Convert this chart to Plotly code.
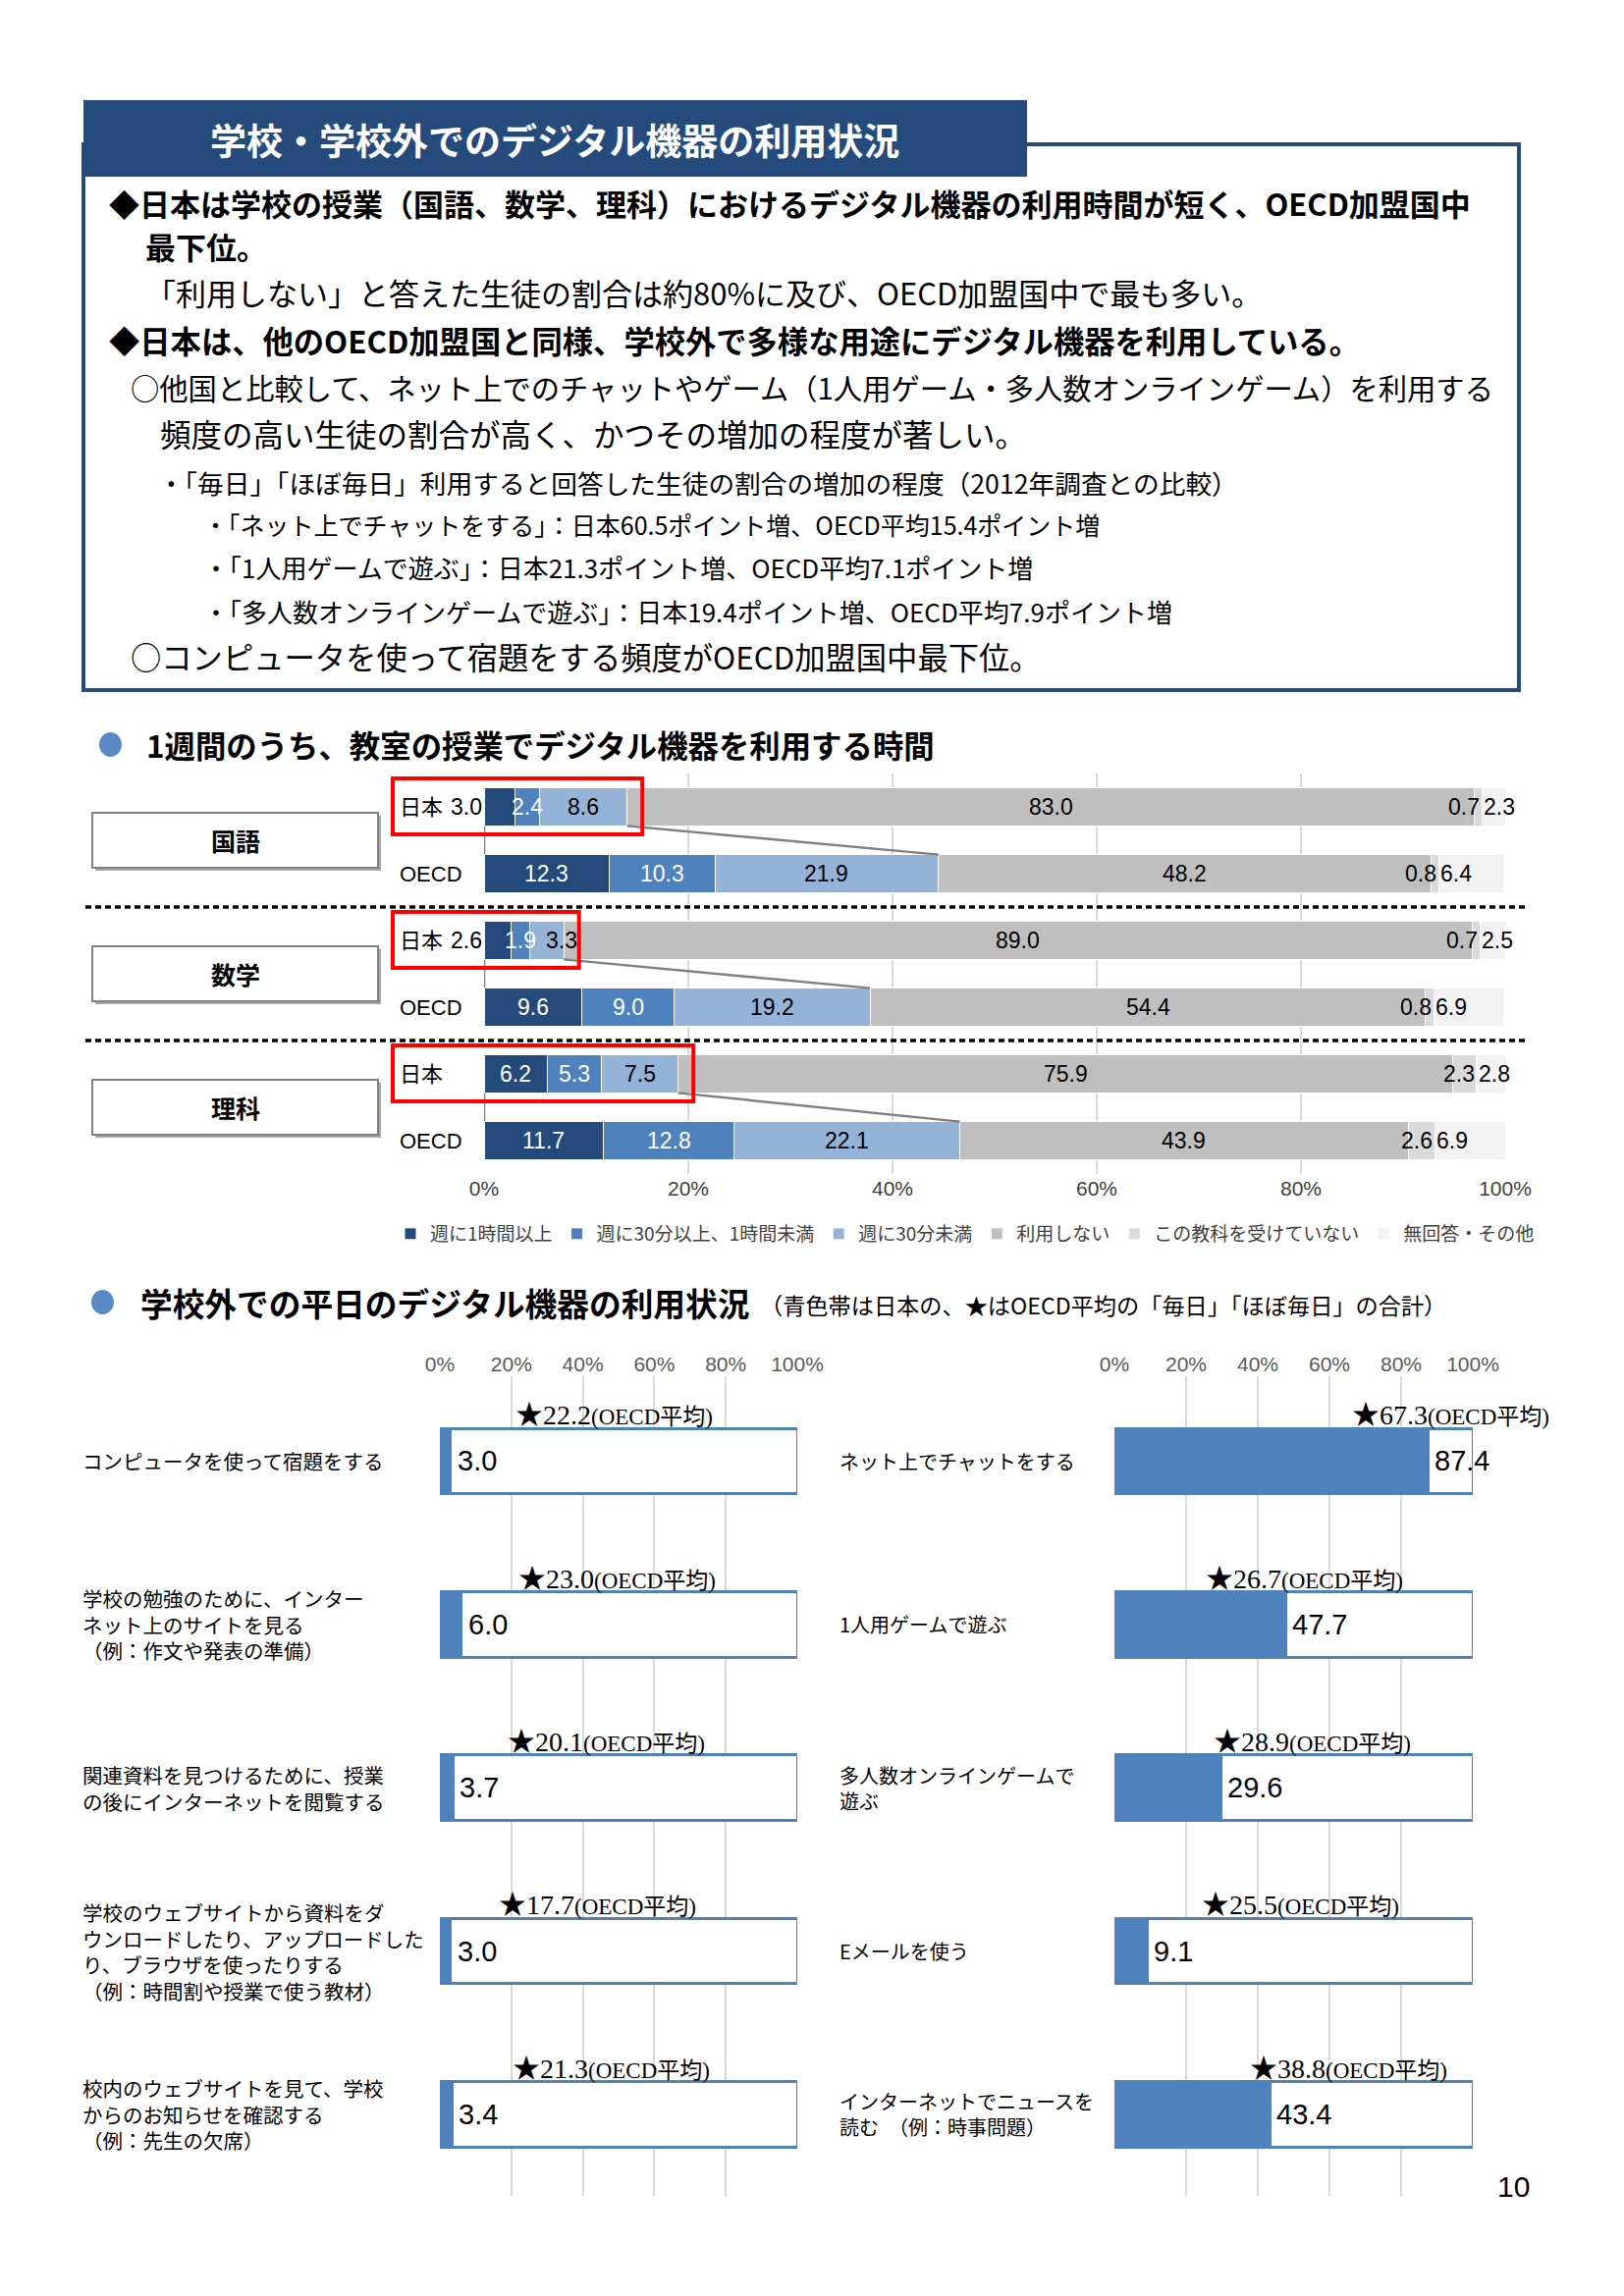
import plotly.graph_objects as go

# ---- data -------------------------------------------------------------
SUBJECTS = ["国語", "数学", "理科"]
GROUPS = ["日本", "OECD"]
TIME_CATS = ["週に1時間以上", "週に30分以上、1時間未満", "週に30分未満",
             "利用しない", "この教科を受けていない", "無回答・その他"]

kokugo_jp = [3.0, 2.4, 8.6, 83.0, 0.7, 2.3]
kokugo_oecd = [12.3, 10.3, 21.9, 48.2, 0.8, 6.4]
sugaku_jp = [2.6, 1.9, 3.3, 89.0, 0.7, 2.5]
sugaku_oecd = [9.6, 9.0, 19.2, 54.4, 0.8, 6.9]
rika_jp = [6.2, 5.3, 7.5, 75.9, 2.3, 2.8]
rika_oecd = [11.7, 12.8, 22.1, 43.9, 2.6, 6.9]

PCT_TICKS = [0, 20, 40, 60, 80, 100]

left_items = [
    "コンピュータを使って宿題をする",
    "学校の勉強のために、インター\nネット上のサイトを見る\n（例：作文や発表の準備）",
    "関連資料を見つけるために、授業\nの後にインターネットを閲覧する",
    "学校のウェブサイトから資料をダ\nウンロードしたり、アップロードした\nり、ブラウザを使ったりする\n（例：時間割や授業で使う教材）",
    "校内のウェブサイトを見て、学校\nからのお知らせを確認する\n（例：先生の欠席）",
]
left_japan = [3.0, 6.0, 3.7, 3.0, 3.4]
left_oecd = [22.2, 23.0, 20.1, 17.7, 21.3]

right_items = [
    "ネット上でチャットをする",
    "1人用ゲームで遊ぶ",
    "多人数オンラインゲームで\n遊ぶ",
    "Eメールを使う",
    "インターネットでニュースを\n読む　（例：時事問題）",
]
right_japan = [87.4, 47.7, 29.6, 9.1, 43.4]
right_oecd = [67.3, 26.7, 28.9, 25.5, 38.8]

# ---- page geometry ----------------------------------------------------
W, H = 1654, 2339
CJK = "Noto Sans CJK JP"
NARROW = "Liberation Sans Narrow, Liberation Sans, Noto Sans CJK JP"
SERIF = "Liberation Serif, Noto Sans CJK JP"
NAVY = "#254b7d"
BLUE = "#4f81bd"
SERIES_COLORS = ["#234a7b", "#4f81bd", "#95b3d7", "#bfbfbf", "#d9d9d9", "#f2f2f2"]


def px(x):
    return x / W


def py(y):
    return 1 - y / H


TOP_X = (493, 1533)
TOP_Y = (788, 1196)
BOT_Y = (1402, 2237)
BOT_LX = (448, 812)
BOT_RX = (1135, 1500)


def top_x(v):
    return TOP_X[0] + v / 100 * (TOP_X[1] - TOP_X[0])


def top_y(r):
    return TOP_Y[0] + (r + 0.5) / 6 * (TOP_Y[1] - TOP_Y[0])


def page_text(x, y, text, size, bold=False, anchor="left", color="black", family=CJK):
    return dict(x=px(x), y=py(y), xref="paper", yref="paper", showarrow=False,
                xanchor=anchor, yanchor="middle",
                text=f"<b>{text}</b>" if bold else text,
                font=dict(family=family, size=size, color=color))


rows = [kokugo_jp, kokugo_oecd, sugaku_jp, sugaku_oecd, rika_jp, rika_oecd]
row_pos = list(range(len(rows)))
BAR_W = 0.57

fig = go.Figure()

# ---- top stacked chart -----------------------------------------------
for i, name in enumerate(TIME_CATS):
    fig.add_trace(go.Bar(
        x=[r[i] for r in rows], y=row_pos, orientation="h", name=name,
        width=BAR_W, marker=dict(color=SERIES_COLORS[i], line=dict(color="white", width=1)),
        xaxis="x", yaxis="y", hoverinfo="skip",
    ))

annotations = []
shapes = []

for r, vals in enumerate(rows):
    cum = 0
    for i, v in enumerate(vals):
        start, end = cum, cum + v
        cum = end
        color = "white" if i < 2 else "black"
        x, anchor, shift = (start + end) / 2, "center", 0
        if i == 0 and v < 4:
            x, anchor, color = 0, "right", "black"
        elif i == 2 and v < 4:
            x, anchor, shift = start, "left", 14
        elif i == 4:
            x, anchor = end, "right"
        elif i == 5:
            x, anchor = start, "left"
        annotations.append(dict(
            x=x, y=r, xref="x", yref="y", text=f"{v:.1f}", showarrow=False,
            xanchor=anchor, yanchor="middle", xshift=shift,
            font=dict(family=NARROW, size=23, color=color),
        ))
    annotations.append(dict(
        x=px(405), y=r, xref="paper", yref="y", text=GROUPS[r % 2], showarrow=False,
        xanchor="left", yanchor="middle", font=dict(family=NARROW, size=22, color="black"),
    ))

# connector lines, red frames, subject boxes, separators
for s, subj in enumerate(SUBJECTS):
    jp, oe = rows[2 * s], rows[2 * s + 1]
    r0 = 2 * s
    end_jp = sum(jp[:3])
    end_oe = sum(oe[:3])
    y_a, y_b = r0 + BAR_W / 2, r0 + 1 - BAR_W / 2
    for xs in ([0, 0], [end_jp, end_oe]):
        fig.add_trace(go.Scatter(
            x=xs, y=[y_a, y_b], mode="lines", line=dict(color="#7f7f7f", width=2.5),
            xaxis="x", yaxis="y", showlegend=False, hoverinfo="skip",
        ))
    yc = top_y(r0)
    shapes.append(dict(
        type="rect", xref="paper", yref="paper", x0=px(400), x1=px(top_x(end_jp + 1.5)),
        y0=py(yc - 29), y1=py(yc + 28), line=dict(color="#ff0000", width=4),
    ))
    mid = (top_y(r0) + top_y(r0 + 1)) / 2
    shapes.append(dict(type="rect", xref="paper", yref="paper", x0=px(97), x1=px(388),
                       y0=py(mid - 25), y1=py(mid + 31), fillcolor="#a6a6a6",
                       line=dict(width=0), layer="below"))
    shapes.append(dict(type="rect", xref="paper", yref="paper", x0=px(94), x1=px(385),
                       y0=py(mid - 28), y1=py(mid + 28), fillcolor="white",
                       line=dict(color="#808080", width=2), layer="below"))
    annotations.append(page_text(240, mid, subj, 25, bold=True, anchor="center"))
    if s < len(SUBJECTS) - 1:
        ysep = top_y(r0 + 1.5)
        shapes.append(dict(type="line", xref="paper", yref="paper", x0=px(87), x1=px(1554),
                           y0=py(ysep), y1=py(ysep),
                           line=dict(color="black", width=3.5, dash="6px,4px")))

# ---- bottom charts ---------------------------------------------------
BOT_BAR = 0.40
for items, jp, oecd, xa, ya, lab_x, lab_size in (
    (left_items, left_japan, left_oecd, "x2", "y2", 82, 20.5),
    (right_items, right_japan, right_oecd, "x3", "y3", 853, 20),
):
    pos = list(range(len(items)))
    fig.add_trace(go.Bar(
        x=jp, y=pos, orientation="h", width=BOT_BAR, xaxis=xa, yaxis=ya,
        marker=dict(color=BLUE, line=dict(color=BLUE, width=3)),
        showlegend=False, hoverinfo="skip",
    ))
    fig.add_trace(go.Bar(
        x=[100 - v for v in jp], y=pos, orientation="h", width=BOT_BAR, xaxis=xa, yaxis=ya,
        marker=dict(color="white", line=dict(color=BLUE, width=3)),
        showlegend=False, hoverinfo="skip",
    ))
    for k, (lab, vj, vo) in enumerate(zip(items, jp, oecd)):
        annotations.append(dict(
            x=vj, y=k, xref=xa, yref=ya, text=f"{vj:.1f}", showarrow=False,
            xanchor="left", yanchor="middle", xshift=5,
            font=dict(family=NARROW, size=29, color="black"),
        ))
        annotations.append(dict(
            x=vo, y=k - BOT_BAR / 2, xref=xa, yref=ya, showarrow=False,
            text=(f"<span style='font-size:28px'>★{vo:.1f}</span>"
                  f"<span style='font-size:23px'>(OECD平均)</span>"),
            xanchor="left", yanchor="bottom", xshift=-6, yshift=-4,
            font=dict(family=SERIF, color="black"),
        ))
        annotations.append(dict(
            x=px(lab_x), y=k, xref="paper", yref=ya, text=lab.replace("\n", "<br>"),
            showarrow=False, xanchor="left", yanchor="middle", align="left",
            font=dict(family=CJK, size=lab_size, color="black"),
        ))

# ---- page decorations -------------------------------------------------
shapes = [
    dict(type="rect", xref="paper", yref="paper", x0=px(85), x1=px(1547),
         y0=py(703), y1=py(147), line=dict(color=NAVY, width=4)),
    dict(type="rect", xref="paper", yref="paper", x0=px(85), x1=px(1046),
         y0=py(180), y1=py(102), fillcolor=NAVY, line=dict(width=0)),
    dict(type="circle", xref="paper", yref="paper", x0=px(101), x1=px(124),
         y0=py(771), y1=py(746), fillcolor="#5a8ac6", line=dict(width=0)),
    dict(type="circle", xref="paper", yref="paper", x0=px(93), x1=px(116),
         y0=py(1339), y1=py(1314), fillcolor="#5a8ac6", line=dict(width=0)),
] + shapes

annotations.append(page_text(565, 142, "学校・学校外でのデジタル機器の利用状況", 37,
                             bold=True, anchor="center", color="white"))

header_lines = [
    (109, 207, 31, True, "◆日本は学校の授業（国語、数学、理科）におけるデジタル機器の利用時間が短く、OECD加盟国中"),
    (146, 251, 31, True, "最下位。"),
    (146, 297, 31, False, "「利用しない」と答えた生徒の割合は約80%に及び、OECD加盟国中で最も多い。"),
    (109, 346, 31.3, True, "◆日本は、他のOECD加盟国と同様、学校外で多様な用途にデジタル機器を利用している。"),
    (131, 394, 29.3, False, "○他国と比較して、ネット上でのチャットやゲーム（1人用ゲーム・多人数オンラインゲーム）を利用する"),
    (161, 441, 31.5, False, "頻度の高い生徒の割合が高く、かつその増加の程度が著しい。"),
    (159, 491, 26.7, False, "・「毎日」「ほぼ毎日」利用すると回答した生徒の割合の増加の程度（2012年調査との比較）"),
    (205, 534, 25, False, "・「ネット上でチャットをする」：日本60.5ポイント増、OECD平均15.4ポイント増"),
    (205, 577, 26, False, "・「1人用ゲームで遊ぶ」：日本21.3ポイント増、OECD平均7.1ポイント増"),
    (205, 622, 26, False, "・「多人数オンラインゲームで遊ぶ」：日本19.4ポイント増、OECD平均7.9ポイント増"),
    (131, 668, 31.3, False, "○コンピュータを使って宿題をする頻度がOECD加盟国中最下位。"),
]
for x, y, size, bold, txt in header_lines:
    annotations.append(page_text(x, y, txt, size, bold=bold))

annotations += [
    page_text(147, 758, "1週間のうち、教室の授業でデジタル機器を利用する時間", 31.4, bold=True),
    page_text(141, 1326, "学校外での平日のデジタル機器の利用状況", 32.7, bold=True),
    page_text(772, 1329, "（青色帯は日本の、★はOECD平均の「毎日」「ほぼ毎日」の合計）", 23.2),
    page_text(1541, 2227, "10", 30, anchor="center", family="Liberation Sans"),
]

pct_axis = dict(range=[0, 100], tickvals=PCT_TICKS, ticktext=[f"{t}%" for t in PCT_TICKS],
                showgrid=True, gridcolor="#d9d9d9", zeroline=False, showline=False,
                ticks="", fixedrange=True, automargin=False)
hidden_y = dict(showgrid=False, showticklabels=False, zeroline=False, showline=False,
                ticks="", fixedrange=True, automargin=False)

fig.update_layout(
    width=W, height=H, margin=dict(l=0, r=0, t=0, b=0, autoexpand=False),
    paper_bgcolor="white", plot_bgcolor="white", barmode="stack",
    xaxis=dict(pct_axis, domain=[px(TOP_X[0]), px(TOP_X[1])], anchor="y", gridwidth=1.5,
               tickfont=dict(family=NARROW, size=21, color="#404040")),
    yaxis=dict(hidden_y, domain=[py(TOP_Y[1]), py(TOP_Y[0])], range=[5.5, -0.5], anchor="x"),
    xaxis2=dict(pct_axis, domain=[px(BOT_LX[0]), px(BOT_LX[1])], anchor="y2", side="top",
                gridwidth=2, tickfont=dict(family=NARROW, size=21, color="#595959")),
    yaxis2=dict(hidden_y, domain=[py(BOT_Y[1]), py(BOT_Y[0])], range=[4.5, -0.52], anchor="x2"),
    xaxis3=dict(pct_axis, domain=[px(BOT_RX[0]), px(BOT_RX[1])], anchor="y3", side="top",
                gridwidth=2, tickfont=dict(family=NARROW, size=21, color="#595959")),
    yaxis3=dict(hidden_y, domain=[py(BOT_Y[1]), py(BOT_Y[0])], range=[4.5, -0.52], anchor="x3"),
    legend=dict(orientation="h", x=px(398), y=py(1257), xanchor="left", yanchor="middle",
                xref="container", yref="container",
                font=dict(family=CJK, size=19, color="#404040"), bgcolor="rgba(0,0,0,0)",
                itemwidth=30, traceorder="normal"),
    shapes=shapes, annotations=annotations,
)

fig.write_html(
    "out.html",
    config={"displayModeBar": False},
    post_script="document.body.style.margin='0';document.body.style.overflow='hidden';",
)
